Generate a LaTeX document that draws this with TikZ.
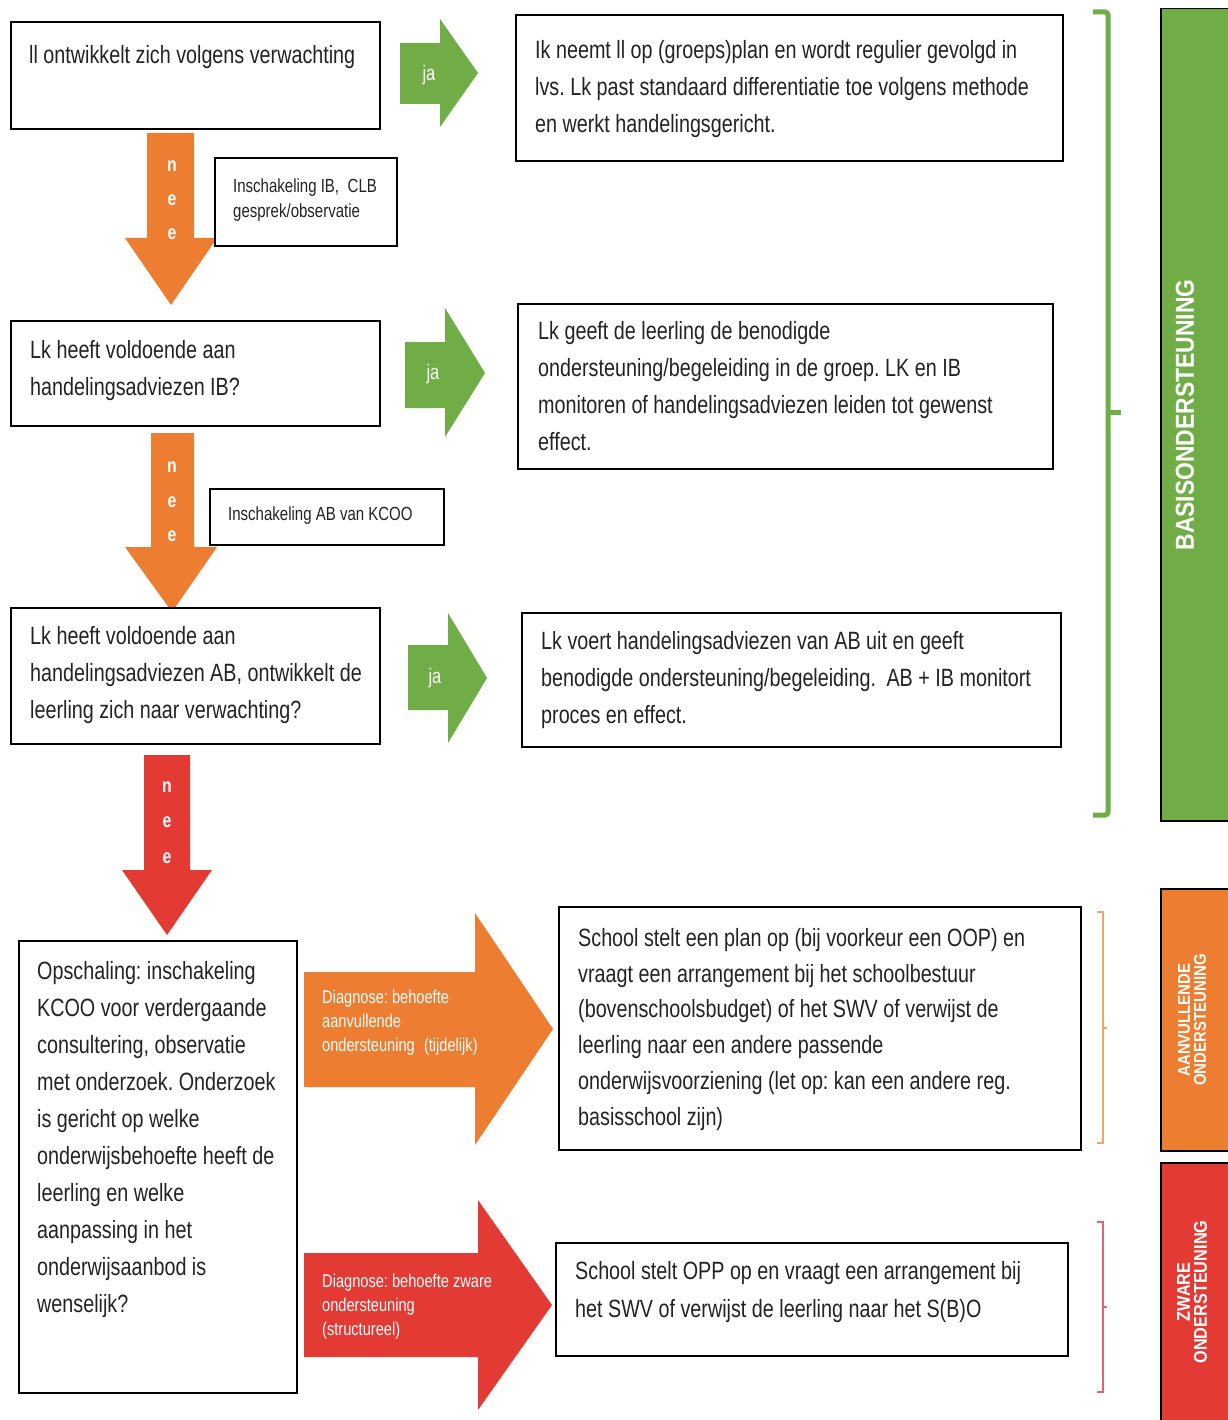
\documentclass[tikz,border=0pt]{standalone}
\usepackage{fontspec}
\setmainfont{Liberation Sans}[FakeStretch=0.79]
\newfontfamily\labfont{Liberation Sans}[FakeStretch=0.88]
\frenchspacing
\newcommand\tsp{\spaceskip 0.22em plus 0.05em\xspaceskip 0.22em\relax\strut}
\definecolor{gr}{RGB}{112,173,71}
\definecolor{og}{RGB}{237,125,49}
\definecolor{rd}{RGB}{228,58,52}
\definecolor{ogl}{RGB}{240,165,110}
\definecolor{rdl}{RGB}{220,100,120}
\definecolor{ink}{RGB}{35,35,35}
\tikzset{
  box/.style={draw=black, line width=1.8pt, fill=white, anchor=north west, inner sep=0pt},
  txt/.style={anchor=north west, inner sep=0pt, align=left, text width=560pt, text=ink, font=\fontsize{25}{37}\selectfont},
  smalltxt/.style={anchor=north west, inner sep=0pt, align=left, text width=300pt, text=ink, font=\fontsize{19}{25}\selectfont},
  arrtxt/.style={anchor=north west, inner sep=0pt, align=left, text width=200pt, text=white, font=\fontsize{18.5}{24}\selectfont},
  jatxt/.style={inner sep=0pt, text=white, font=\fontsize{21}{24}\selectfont},
  neetxt/.style={anchor=base, inner sep=0pt, text=white, font=\bfseries\fontsize{20}{24}\selectfont},
  levelbox/.style={draw=black, line width=1.5pt, anchor=north west, inner sep=0pt},
  leveltxt/.style={inner sep=0pt, text=white, rotate=90, align=center},
}
\begin{document}
\begin{tikzpicture}[x=1pt,y=-1pt]
\useasboundingbox (0,0) rectangle (1227,1420);
\fill[white] (0,0) rectangle (1227,1420);

% ---- green "ja" arrows
\fill[gr] (400,43) -- (440,43) -- (440,19) -- (478,73) -- (440,127) -- (440,104) -- (400,104) -- cycle;
\fill[gr] (405,342) -- (445,342) -- (445,308) -- (485,373) -- (445,437) -- (445,408) -- (405,408) -- cycle;
\fill[gr] (408,645) -- (448,645) -- (448,613) -- (487,678) -- (448,743) -- (448,710) -- (408,710) -- cycle;
\node[jatxt] (ja1) at (429,75) {ja};
\node[jatxt] (ja2) at (433,374) {ja};
\node[jatxt] (ja3) at (435,678) {ja};

% ---- down arrows
\fill[og] (147,133) -- (194,133) -- (194,238) -- (217,238) -- (171,305) -- (125,238) -- (147,238) -- cycle;
\fill[og] (151,433) -- (194,433) -- (194,547) -- (217,547) -- (172,612) -- (125,547) -- (151,547) -- cycle;
\fill[rd] (144,755) -- (190,755) -- (190,870) -- (212,870) -- (167,935) -- (122,870) -- (144,870) -- cycle;
\node[neetxt] (n1a) at (172,172) {n};
\node[neetxt] (n1b) at (172,206) {e};
\node[neetxt] (n1c) at (172,240) {e};
\node[neetxt] (n2a) at (172,472) {n};
\node[neetxt] (n2b) at (172,507) {e};
\node[neetxt] (n2c) at (172,541) {e};
\node[neetxt] (n3a) at (167,792) {n};
\node[neetxt] (n3b) at (167,827) {e};
\node[neetxt] (n3c) at (167,863) {e};

% ---- big diagnose arrows
\fill[og] (304,972) -- (475,972) -- (475,913) -- (553,1029) -- (475,1145) -- (475,1087) -- (304,1087) -- cycle;
\fill[rd] (304,1253) -- (478,1253) -- (478,1200) -- (552,1305) -- (478,1410) -- (478,1357) -- (304,1357) -- cycle;
\node[arrtxt] (d1) at (322,986) {\tsp Diagnose: behoefte\\aanvullende\\ondersteuning\hspace{0.5em}(tijdelijk)};
\node[arrtxt] (d2) at (322,1270) {\tsp Diagnose: behoefte zware\\ondersteuning\\(structureel)};

% ---- left column boxes
\node[box, minimum width=369pt, minimum height=107pt] (b1) at (10,21) {};
\node[txt] (tb1) at (29,37) {\tsp ll ontwikkelt zich volgens verwachting};
\node[box, minimum width=369pt, minimum height=105pt] (b2) at (10,320) {};
\node[txt] (tb2) at (30,332) {\tsp Lk heeft voldoende aan\\handelingsadviezen IB?};
\node[box, minimum width=369pt, minimum height=136pt] (b3) at (10,607) {};
\node[txt] (tb3) at (30,618) {\tsp Lk heeft voldoende aan\\handelingsadviezen AB, ontwikkelt de\\leerling zich naar verwachting?};
\node[box, minimum width=278pt, minimum height=452pt] (b4) at (18,940) {};
\node[txt] (tb4) at (37,953) {\tsp Opschaling: inschakeling\\KCOO voor verdergaande\\consultering, observatie\\met onderzoek. Onderzoek\\is gericht op welke\\onderwijsbehoefte heeft de\\leerling en welke\\aanpassing in het\\onderwijsaanbod is\\wenselijk?};

% ---- small boxes
\node[box, minimum width=182pt, minimum height=88pt] (s1) at (214,157) {};
\node[smalltxt] (ts1) at (233,174.5) {\tsp Inschakeling IB,\hspace{0.45em}CLB\\gesprek/observatie};
\node[box, minimum width=234pt, minimum height=56pt] (s2) at (209,488) {};
\node[smalltxt] (ts2) at (228,502.5) {\tsp Inschakeling AB van KCOO};

% ---- right column boxes
\node[box, minimum width=547pt, minimum height=146pt] (r1) at (515,14) {};
\node[txt] (tr1) at (535,32) {\tsp Ik neemt ll op (groeps)plan en wordt regulier gevolgd in\\lvs. Lk past standaard differentiatie toe volgens methode\\en werkt handelingsgericht.};
\node[box, minimum width=535pt, minimum height=165pt] (r2) at (517,303) {};
\node[txt] (tr2) at (538,313) {\tsp Lk geeft de leerling de benodigde\\ondersteuning/begeleiding in de groep. LK en IB\\monitoren of handelingsadviezen leiden tot gewenst\\effect.};
\node[box, minimum width=539pt, minimum height=134pt] (r3) at (521,612) {};
\node[txt] (tr3) at (541,623) {\tsp Lk voert handelingsadviezen van AB uit en geeft\\benodigde ondersteuning/begeleiding.\hspace{0.42em}AB + IB monitort\\proces en effect.};
\node[box, minimum width=522pt, minimum height=243pt] (r4) at (558,906) {};
\node[txt, font=\fontsize{25}{35.8}\selectfont] (tr4) at (578,921) {\tsp School stelt een plan op (bij voorkeur een OOP) en\\vraagt een arrangement bij het schoolbestuur\\(bovenschoolsbudget) of het SWV of verwijst de\\leerling naar een andere passende\\onderwijsvoorziening (let op: kan een andere reg.\\basisschool zijn)};
\node[box, minimum width=512pt, minimum height=113pt] (r5) at (555,1242) {};
\node[txt, font=\fontsize{25}{38}\selectfont] (tr5) at (575,1253) {\tsp School stelt OPP op en vraagt een arrangement bij\\het SWV of verwijst de leerling naar het S(B)O};

% ---- brackets
\draw[gr, line width=5pt, rounded corners=3pt] (1093,12) -- (1108,12) -- (1108,815) -- (1093,815);
\draw[gr, line width=5pt] (1108,412) -- (1121,412);
\draw[ogl, line width=1.3pt] (1097,912) -- (1103,912) -- (1103,1143) -- (1097,1143);
\draw[ogl, line width=1.3pt] (1103,1028) -- (1107,1028);
\draw[rdl, line width=1.3pt] (1097,1222) -- (1103,1222) -- (1103,1392) -- (1097,1392);
\draw[rdl, line width=1.3pt] (1103,1307) -- (1107,1307);

% ---- level bars
\node[levelbox, fill=gr, minimum width=75pt, minimum height=812pt] (lv1) at (1160,8) {};
\node[levelbox, fill=og, minimum width=75pt, minimum height=262pt] (lv2) at (1160,888) {};
\node[levelbox, fill=rd, minimum width=75pt, minimum height=270pt] (lv3) at (1160,1162) {};
\node[leveltxt, font=\labfont\bfseries\fontsize{26}{28}\selectfont] (lt1) at (1185,415) {BASISONDERSTEUNING};
\node[leveltxt, font=\labfont\bfseries\fontsize{17}{16}\selectfont] (lt2) at (1192,1020) {AANVULLENDE\\ONDERSTEUNING};
\node[leveltxt, font=\labfont\bfseries\fontsize{18.5}{17}\selectfont] (lt3) at (1192,1292) {ZWARE\\ONDERSTEUNING};
\end{tikzpicture}
\end{document}
